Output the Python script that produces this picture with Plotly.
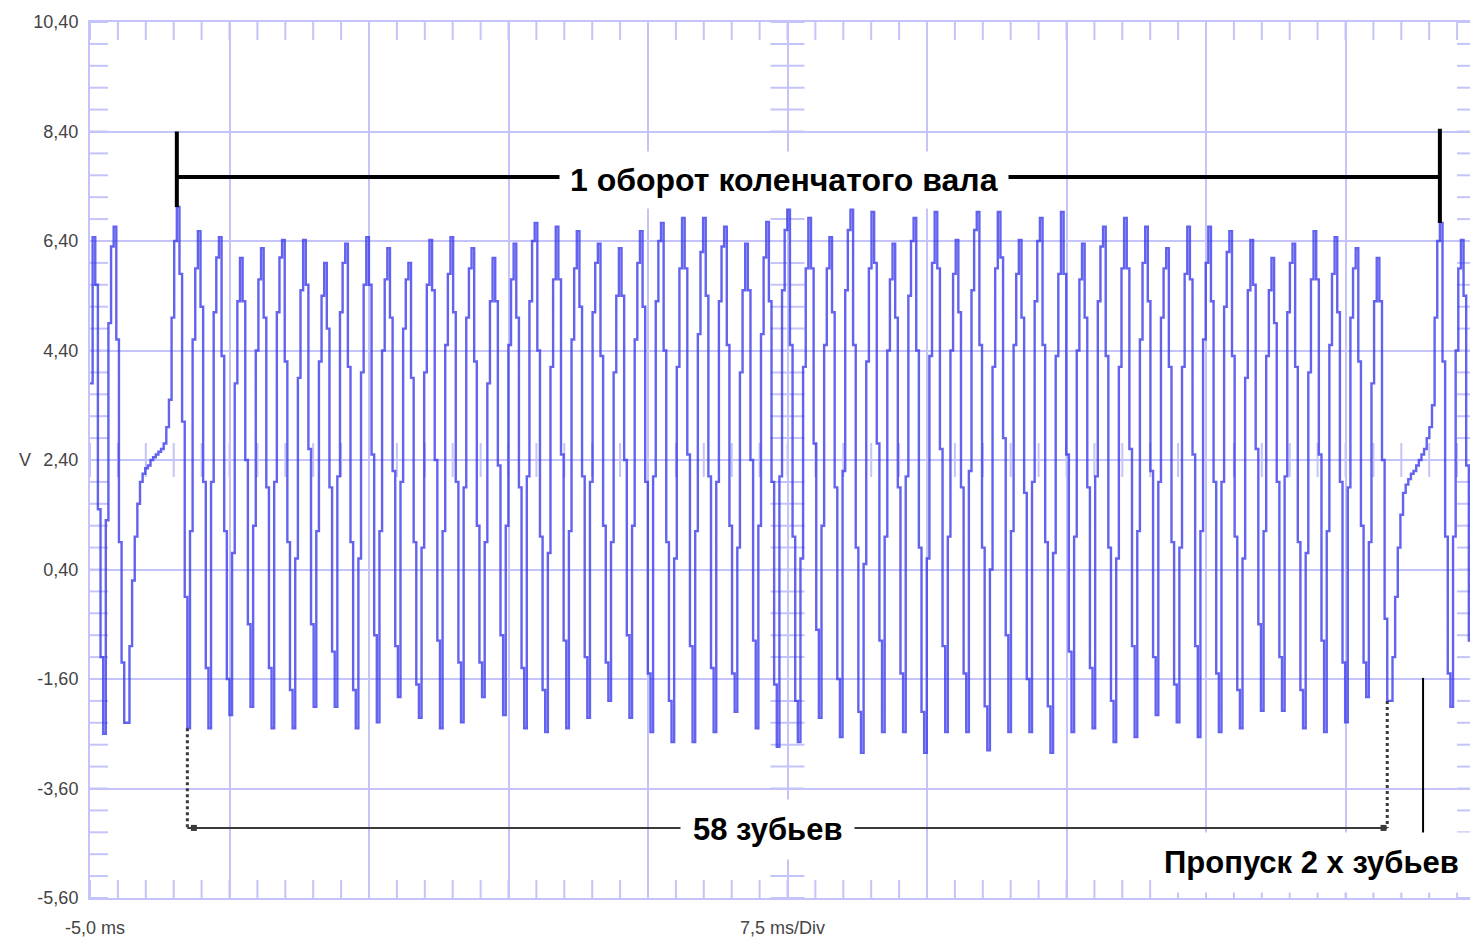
import plotly.graph_objects as go

# ---------------- data (oscilloscope capture, 60-2 crank sensor) ----------------
x_start_ms = -5.0
ms_per_div = 7.5
sample_interval_ms = 0.14147

y_tick_vals = [-5.6, -3.6, -1.6, 0.4, 2.4, 4.4, 6.4, 8.4, 10.4]
y_tick_text = ["-5,60", "-3,60", "-1,60", "0,40", "2,40", "4,40", "6,40", "8,40", "10,40"]
x_label_vals = [-5.0, 32.5]
x_label_text = ["-5,0 ms", "7,5 ms/Div"]

# samples before the first missing-tooth gap
lead_in = [3.8, 6.47, 5.6, 1.5, -1.2, -2.6, 1.3, 4.9, 6.3, 6.66, 4.6, 0.9, -1.3, -2.4]
# slow rise across the missing two teeth (first gap)
gap_1 = [-2.4, -1.0, 0.2, 1.0, 1.6, 2.0, 2.15, 2.25, 2.3, 2.4, 2.45, 2.5, 2.55, 2.6, 2.7,
         3.0, 3.5, 5.0, 6.4]
# first tooth after the gap: peak and fall
tooth_0 = [7.02, 5.8, 3.1, -0.1, -2.50]
# teeth 1..57: rise, rise, rise, peak, fall, fall, fall, trough (V)
tooth_rows = [
    [1.1, 4.6, 5.9, 6.58, 5.2, 2.0, -1.4, -2.50],
    [2.0, 5.1, 6.1, 6.47, 4.3, 1.1, -1.6, -2.26],
    [0.7, 3.8, 5.3, 6.09, 5.3, 2.4, -0.6, -2.11],
    [1.2, 4.4, 5.7, 6.27, 5.0, 1.9, -1.4, -2.50],
    [2.0, 5.1, 6.1, 6.42, 4.2, 0.9, -1.8, -2.50],
    [0.6, 3.9, 5.5, 6.42, 5.6, 2.6, -0.6, -2.11],
    [1.1, 4.2, 5.4, 6.00, 4.8, 1.9, -1.1, -2.11],
    [2.1, 5.1, 6.0, 6.35, 4.1, 0.9, -1.8, -2.50],
    [0.6, 4.0, 5.6, 6.47, 5.6, 2.5, -0.8, -2.39],
    [1.1, 4.4, 5.7, 6.27, 5.0, 2.2, -1.0, -1.93],
    [2.0, 4.8, 5.7, 6.00, 3.9, 0.9, -1.7, -2.31],
    [0.8, 4.0, 5.6, 6.42, 5.5, 2.4, -0.9, -2.50],
    [1.1, 4.5, 5.8, 6.47, 5.1, 2.0, -1.3, -2.39],
    [1.9, 5.0, 5.9, 6.27, 4.2, 1.2, -1.3, -1.93],
    [0.9, 3.8, 5.3, 6.09, 5.3, 2.3, -0.8, -2.26],
    [1.2, 4.5, 5.7, 6.35, 5.0, 1.9, -1.4, -2.50],
    [2.1, 5.3, 6.4, 6.73, 4.4, 1.0, -1.8, -2.57],
    [0.7, 4.1, 5.7, 6.66, 5.7, 2.5, -0.9, -2.50],
    [1.1, 4.6, 5.9, 6.58, 5.2, 2.1, -1.2, -2.31],
    [2.0, 5.1, 6.0, 6.35, 4.3, 1.2, -1.3, -2.00],
    [0.9, 4.0, 5.4, 6.27, 5.4, 2.4, -0.8, -2.31],
    [1.2, 4.6, 6.0, 6.58, 5.2, 2.0, -1.5, -2.57],
    [2.1, 5.3, 6.4, 6.73, 4.4, 0.9, -2.0, -2.75],
    [0.6, 4.1, 5.9, 6.82, 5.9, 2.5, -1.0, -2.75],
    [1.1, 4.7, 6.2, 6.82, 5.4, 2.1, -1.4, -2.57],
    [2.0, 5.3, 6.3, 6.66, 4.5, 1.2, -1.5, -2.20],
    [0.8, 4.0, 5.5, 6.35, 5.5, 2.4, -0.9, -2.50],
    [1.2, 4.7, 6.1, 6.75, 5.3, 2.0, -1.7, -2.84],
    [2.1, 5.5, 6.6, 6.98, 4.5, 1.0, -2.0, -2.75],
    [0.6, 4.1, 5.9, 6.82, 5.9, 2.7, -0.7, -2.31],
    [1.2, 4.5, 5.9, 6.47, 5.1, 1.9, -1.6, -2.66],
    [2.2, 5.5, 6.6, 6.98, 4.5, 0.8, -2.2, -2.95],
    [0.5, 4.2, 5.9, 6.93, 6.0, 2.7, -0.9, -2.57],
    [1.0, 4.4, 5.7, 6.35, 5.0, 1.9, -1.5, -2.57],
    [2.1, 5.4, 6.4, 6.82, 4.4, 0.8, -2.2, -2.95],
    [0.6, 4.3, 6.0, 6.93, 5.9, 2.6, -1.0, -2.57],
    [1.0, 4.4, 5.8, 6.42, 5.1, 1.9, -1.5, -2.57],
    [2.2, 5.5, 6.6, 6.93, 4.5, 0.8, -2.1, -2.90],
    [0.4, 4.1, 5.9, 6.93, 6.1, 2.8, -0.8, -2.57],
    [1.1, 4.5, 5.8, 6.42, 5.0, 1.8, -1.6, -2.57],
    [2.0, 5.3, 6.4, 6.82, 4.5, 0.9, -2.1, -2.95],
    [0.7, 4.3, 5.8, 6.93, 5.8, 2.5, -1.1, -2.57],
    [1.0, 4.4, 5.7, 6.35, 5.0, 1.9, -1.4, -2.50],
    [2.1, 5.3, 6.3, 6.66, 4.3, 0.8, -2.0, -2.75],
    [0.6, 4.1, 5.9, 6.82, 5.9, 2.6, -1.0, -2.66],
    [1.1, 4.6, 6.0, 6.66, 5.3, 2.2, -1.2, -2.26],
    [2.0, 5.0, 5.9, 6.27, 4.1, 0.9, -1.7, -2.39],
    [0.8, 4.1, 5.8, 6.66, 5.7, 2.5, -1.0, -2.66],
    [1.1, 4.6, 6.0, 6.66, 5.3, 2.0, -1.5, -2.57],
    [2.0, 5.2, 6.2, 6.58, 4.3, 1.0, -1.8, -2.50],
    [0.6, 3.9, 5.5, 6.42, 5.6, 2.6, -0.6, -2.18],
    [1.1, 4.3, 5.5, 6.09, 4.9, 2.0, -1.2, -2.18],
    [2.1, 5.1, 6.0, 6.35, 4.1, 0.9, -1.8, -2.50],
    [0.7, 4.0, 5.7, 6.58, 5.7, 2.5, -0.9, -2.57],
    [1.1, 4.5, 5.8, 6.47, 5.1, 2.0, -1.3, -2.39],
    [1.9, 5.0, 5.9, 6.27, 4.2, 1.2, -1.3, -1.93],
    [0.9, 3.8, 5.3, 6.09, 5.3, 2.4, -0.5, -2.00],
]
# slow rise across the missing two teeth (second gap)
gap_2 = [-2.0, -1.2, -0.1, 0.8, 1.4, 1.8, 1.95, 2.05, 2.15, 2.2, 2.3, 2.4, 2.5, 2.6, 2.8,
         3.0, 3.4, 5.0, 6.4]
# start of the next revolution
tail = [6.73, 4.2, 1.0, -1.5, -2.11, 1.0, 4.4, 5.9, 6.42, 5.4, 2.3, -0.9, -1.95, 1.2]

gap_marker_ms = 66.67

# ---------------- build the series ----------------
volts = lead_in + gap_1 + tooth_0 + [v for row in tooth_rows for v in row] + gap_2 + tail
times = [x_start_ms + i * sample_interval_ms for i in range(len(volts))]

i_first_tooth = len(lead_in) + len(gap_1)
i_first_trough = i_first_tooth + len(tooth_0) - 1
i_last_trough = i_first_trough + 8 * len(tooth_rows)
i_next_rev = i_last_trough + len(gap_2) + 1

# ---------------- layout geometry ----------------
W, H = 1470, 939
ml, mr, mt, mb = 90, 0, 22, 41
plot_w, plot_h = W - ml - mr, H - mt - mb
px_per_div = 139.5
x_min = x_start_ms
x_max = x_start_ms + plot_w / px_per_div * ms_per_div
y_min, y_max = -5.6, 10.4
px_per_ms = plot_w / (x_max - x_min)
px_per_v = plot_h / (y_max - y_min)

grid_col = "rgb(196,196,250)"
y_center = (y_min + y_max) / 2
x_center = x_start_ms + 5 * ms_per_div

# graticule minor ticks
gx, gy = [], []
edge_ms, edge_v = 18 / px_per_ms, 18 / px_per_v
cen_ms, cen_v = 17 / px_per_ms, 17 / px_per_v
right_ms = 13 / px_per_ms
k = 0
while True:
    t = x_min + k * ms_per_div / 5
    if t > x_max:
        break
    gx += [t, t, None, t, t, None, t, t, None]
    gy += [y_max, y_max - edge_v, None, y_min, y_min + edge_v, None,
           y_center - cen_v, y_center + cen_v, None]
    k += 1
k = 0
while True:
    v = y_min + k * 0.4
    if v > y_max + 1e-9:
        break
    gx += [x_min, x_min + edge_ms, None, x_max - right_ms, x_max, None,
           x_center - cen_ms, x_center + cen_ms, None]
    gy += [v, v, None, v, v, None, v, v, None]
    k += 1

fig = go.Figure()
fig.add_trace(go.Scatter(x=gx, y=gy, mode="lines", line=dict(color=grid_col, width=2),
                         hoverinfo="skip", showlegend=False))
fig.add_trace(go.Scatter(x=times, y=volts, mode="lines", line_shape="hv",
                         line=dict(color="rgba(55,55,235,0.78)", width=2.4),
                         hoverinfo="skip", showlegend=False))

def t_of(i):
    return times[i]

shapes = []
blk = dict(color="black", width=4)
# one-revolution bracket
bracket_y = 7.57
shapes.append(dict(type="line", x0=t_of(i_first_tooth), x1=t_of(i_first_tooth),
                   y0=8.4, y1=volts[i_first_tooth], line=blk))
shapes.append(dict(type="line", x0=t_of(i_first_tooth), x1=t_of(i_next_rev),
                   y0=bracket_y, y1=bracket_y, line=blk))
shapes.append(dict(type="line", x0=t_of(i_next_rev), x1=t_of(i_next_rev),
                   y0=8.45, y1=volts[i_next_rev], line=blk))
# 58 teeth span
span_y = -4.32
gray = "#3a3a3a"
shapes.append(dict(type="line", x0=t_of(i_first_trough), x1=t_of(i_first_trough),
                   y0=volts[i_first_trough], y1=span_y, line=dict(color=gray, width=3, dash="dot")))
shapes.append(dict(type="line", x0=t_of(i_last_trough), x1=t_of(i_last_trough),
                   y0=volts[i_last_trough], y1=span_y, line=dict(color=gray, width=3, dash="dot")))
shapes.append(dict(type="line", x0=t_of(i_first_trough), x1=t_of(i_last_trough),
                   y0=span_y, y1=span_y, line=dict(color=gray, width=2)))
# missing teeth marker
shapes.append(dict(type="line", x0=gap_marker_ms, x1=gap_marker_ms, y0=-1.58, y1=-4.45,
                   line=dict(color="black", width=2)))

fig.add_trace(go.Scatter(x=[t_of(i_first_trough) + 0.35, t_of(i_last_trough) - 0.2],
                         y=[span_y, span_y], mode="markers",
                         marker=dict(symbol="square", size=6, color=gray),
                         hoverinfo="skip", showlegend=False))

big = dict(family="Liberation Sans, Arial, sans-serif", size=31, color="black")
small = dict(family="Liberation Sans, Arial, sans-serif", size=18, color="#444444")
annotations = [
    dict(x=32.3, y=7.52, text="<b>1 оборот коленчатого вала</b>", showarrow=False,
         font=dict(big, size=32), bgcolor="white", borderpad=10),
    dict(x=31.45, y=-4.35, text="<b>58 зубьев</b>", showarrow=False,
         font=big, bgcolor="white", borderpad=12),
    dict(x=60.65, y=-4.95, text="<b>Пропуск 2 х зубьев</b>", showarrow=False,
         font=big, bgcolor="white", borderpad=12),
    dict(x=-0.053, xref="paper", y=y_center, text="V", showarrow=False, font=small),
]
for xv, txt, sh in zip(x_label_vals, x_label_text, [5, -5]):
    annotations.append(dict(x=xv, y=0, yref="paper", yanchor="middle", yshift=-30,
                            xshift=sh, text=txt, showarrow=False, font=small))

fig.update_layout(
    width=W, height=H,
    margin=dict(l=ml, r=mr, t=mt, b=mb, pad=0),
    paper_bgcolor="white", plot_bgcolor="white",
    showlegend=False,
    shapes=shapes,
    annotations=annotations,
    xaxis=dict(range=[x_min, x_max], tick0=x_start_ms, dtick=ms_per_div,
               showgrid=True, gridcolor=grid_col, gridwidth=2, zeroline=False,
               showticklabels=False, ticks="",
               showline=True, linecolor=grid_col, linewidth=2, mirror=True),
    yaxis=dict(range=[y_min, y_max], tickvals=y_tick_vals, ticktext=y_tick_text,
               showgrid=True, gridcolor=grid_col, gridwidth=2, zeroline=False,
               ticks="", tickfont=small, ticklabelstandoff=6,
               showline=True, linecolor=grid_col, linewidth=2),
)

fig.write_html("out.html")
